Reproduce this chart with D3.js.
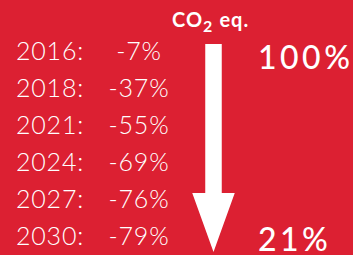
<!DOCTYPE html>
<html>
<head>
<meta charset="utf-8">
<script src="https://cdn.jsdelivr.net/npm/d3@7.9.0/dist/d3.min.js"></script>
<style>
  html, body { margin: 0; padding: 0; background: #dc2032; }
  svg { display: block; }
  text { font-family: Lato, "Open Sans", sans-serif; fill: #fff; }
</style>
</head>
<body>
<svg id="chart" width="353" height="255"></svg>
<script>
// data
const years = ["2016", "2018", "2021", "2024", "2027", "2030"];
const reductions = [-7, -37, -55, -69, -76, -79];
const startLevel = 100;
const endLevel = 21;

const W = 353, H = 255;
const svg = d3.select("#chart");

svg.append("rect").attr("width", W).attr("height", H).attr("fill", "#dc2032");

// row positions (baselines)
const y = d3.scalePoint().domain(years).range([60, 245]);

const rows = svg.selectAll("g.row")
  .data(years.map((yr, i) => ({ year: yr, value: reductions[i] })))
  .join("g")
  .attr("class", "row")
  .attr("transform", d => `translate(0,${y(d.year)})`);

rows.append("text")
  .attr("x", 16)
  .attr("font-size", 25)
  .attr("font-weight", 300)
  .attr("letter-spacing", 0.8)
  .text(d => d.year + ":");

rows.append("text")
  .attr("x", 139)
  .attr("text-anchor", "middle")
  .attr("font-size", 25)
  .attr("font-weight", 300)
  .attr("letter-spacing", 0.8)
  .text(d => "-" + Math.abs(d.value) + "%");

// arrow: level scale from 100% (top) down to 21% (bottom)
const lv = d3.scaleLinear().domain([startLevel, endLevel]).range([44, 252]);
const cx = 213.5;
const shaftW = 16.5, headW = 42.5, headH = 59;
const yTop = lv(startLevel), yTip = lv(endLevel);
const arrow = d3.path();
arrow.moveTo(cx - shaftW / 2, yTop);
arrow.lineTo(cx + shaftW / 2, yTop);
arrow.lineTo(cx + shaftW / 2, yTip - headH);
arrow.lineTo(cx + headW / 2, yTip - headH);
arrow.lineTo(cx, yTip);
arrow.lineTo(cx - headW / 2, yTip - headH);
arrow.lineTo(cx - shaftW / 2, yTip - headH);
arrow.closePath();
svg.append("path").attr("d", arrow.toString()).attr("fill", "#fff");

// label CO2 eq.
const co2 = svg.append("text")
  .attr("x", 172)
  .attr("y", 27)
  .attr("font-size", 20)
  .attr("font-weight", 700)
  .attr("letter-spacing", 1);
co2.append("tspan").text("CO");
co2.append("tspan").attr("font-size", 16).attr("dy", 5).text("2");
co2.append("tspan").attr("dy", -5).attr("dx", 6).text("eq.");

// level labels
svg.append("text")
  .attr("x", 258)
  .attr("y", 69)
  .attr("font-size", 32)
  .attr("font-weight", 500)
  .attr("letter-spacing", 3.5)
  .text(startLevel + "%");

svg.append("text")
  .attr("x", 258)
  .attr("y", 251)
  .attr("font-size", 32)
  .attr("font-weight", 500)
  .attr("letter-spacing", 3.5)
  .text(endLevel + "%");
</script>
</body>
</html>
